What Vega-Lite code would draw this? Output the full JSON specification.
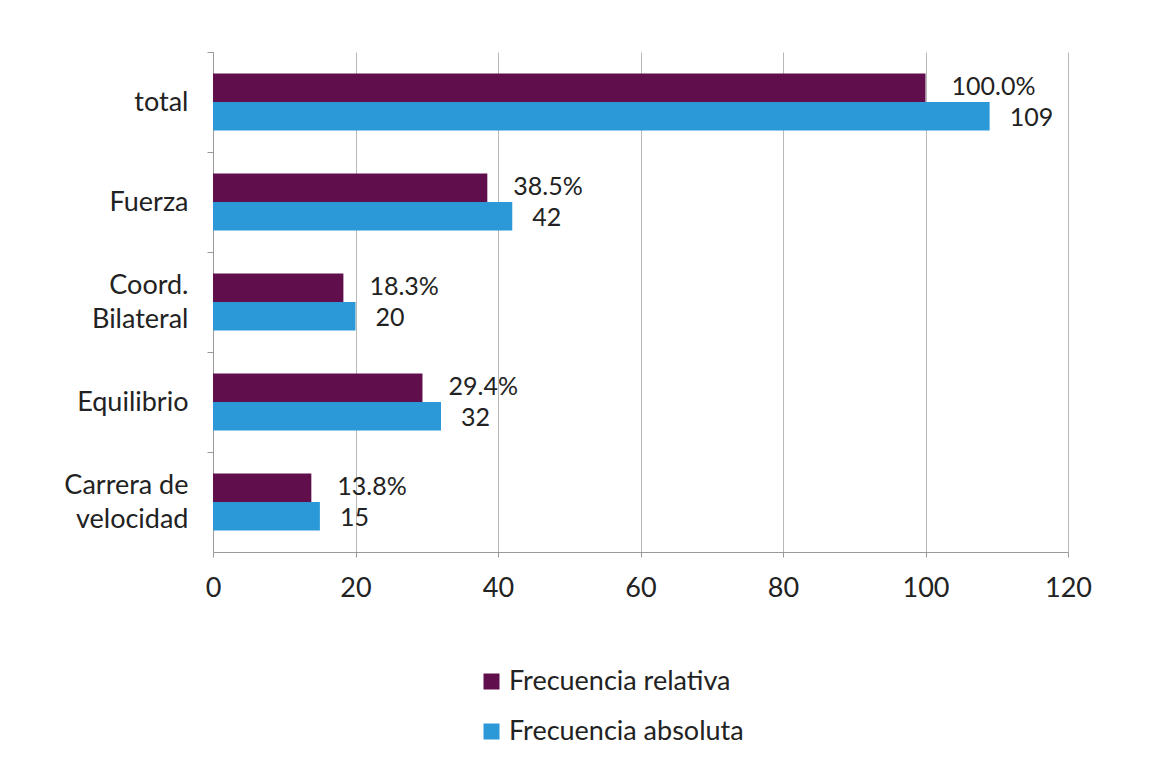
{
  "$schema": "https://vega.github.io/schema/vega-lite/v6.json",
  "width": 855,
  "height": 500,
  "autosize": "none",
  "padding": {"left": 213, "top": 52, "right": 86, "bottom": 230},
  "background": "white",
  "data": {"values": [
    {"cat": "total", "serie": "Frecuencia relativa", "value": 100.0},
    {"cat": "total", "serie": "Frecuencia absoluta", "value": 109},
    {"cat": "Fuerza", "serie": "Frecuencia relativa", "value": 38.5},
    {"cat": "Fuerza", "serie": "Frecuencia absoluta", "value": 42},
    {"cat": "Coord. Bilateral", "serie": "Frecuencia relativa", "value": 18.3},
    {"cat": "Coord. Bilateral", "serie": "Frecuencia absoluta", "value": 20},
    {"cat": "Equilibrio", "serie": "Frecuencia relativa", "value": 29.4},
    {"cat": "Equilibrio", "serie": "Frecuencia absoluta", "value": 32},
    {"cat": "Carrera de velocidad", "serie": "Frecuencia relativa", "value": 13.8},
    {"cat": "Carrera de velocidad", "serie": "Frecuencia absoluta", "value": 15}
  ]},
  "encoding": {
    "y": {
      "field": "cat", "type": "nominal",
      "sort": ["total", "Fuerza", "Coord. Bilateral", "Equilibrio", "Carrera de velocidad"],
      "scale": {"paddingInner": 0.43, "paddingOuter": 0.215},
      "axis": {
        "title": null,
        "tickOffset": -50,
        "domainColor": "#9a9a9a",
        "tickColor": "#9a9a9a",
        "tickSize": 6,
        "labelPadding": 19,
        "labelFontSize": 27,
        "labelFont": "Lato",
        "labelColor": "#222222",
        "labelLineHeight": 34,
        "labelOffset": {"condition": {"test": "datum.value == 'Coord. Bilateral' || datum.value == 'Carrera de velocidad'", "value": 33}, "value": 50},
        "labelExpr": "datum.value == 'Coord. Bilateral' ? ['Coord.', 'Bilateral'] : datum.value == 'Carrera de velocidad' ? ['Carrera de', 'velocidad'] : datum.value"
      }
    },
    "yOffset": {
      "field": "serie", "type": "nominal",
      "sort": ["Frecuencia relativa", "Frecuencia absoluta"],
      "scale": {"paddingInner": 0, "paddingOuter": 0}
    },
    "x": {
      "field": "value", "type": "quantitative",
      "scale": {"domain": [0, 120], "nice": false},
      "axis": {
        "title": null,
        "values": [0, 20, 40, 60, 80, 100, 120],
        "grid": true,
        "gridColor": "#b8b8b8",
        "domainColor": "#9a9a9a",
        "tickColor": "#9a9a9a",
        "tickSize": 5,
        "labelFlush": false,
        "labelPadding": 18,
        "labelFontSize": 27,
        "labelFont": "Lato",
        "labelColor": "#222222"
      }
    }
  },
  "layer": [
    {
      "mark": {"type": "bar", "opacity": 1},
      "encoding": {
        "color": {
          "field": "serie", "type": "nominal",
          "sort": ["Frecuencia relativa", "Frecuencia absoluta"],
          "scale": {"domain": ["Frecuencia relativa", "Frecuencia absoluta"], "range": ["#600E4C", "#2B98D8"]},
          "legend": {
            "title": null,
            "orient": "none",
            "legendX": 265,
            "legendY": 616,
            "direction": "vertical",
            "symbolType": "square",
            "symbolSize": 256,
            "symbolStrokeWidth": 0,
            "symbolOpacity": 1,
            "labelFontSize": 27,
            "labelFont": "Lato",
            "labelColor": "#222222",
            "labelLimit": 0,
            "labelOffset": 4,
            "rowPadding": 22
          }
        }
      }
    },
    {
      "transform": [
        {"filter": "datum.serie == 'Frecuencia relativa'"},
        {"calculate": "format(datum.value, '.1f') + '%'", "as": "label"}
      ],
      "mark": {"type": "text", "align": "left", "baseline": "middle", "dx": 26, "dy": -1, "fontSize": 25, "font": "Lato", "color": "#222222"},
      "encoding": {"text": {"field": "label"}}
    },
    {
      "transform": [
        {"filter": "datum.serie == 'Frecuencia absoluta'"}
      ],
      "mark": {"type": "text", "align": "left", "baseline": "middle", "dx": 20, "dy": 2, "fontSize": 25, "font": "Lato", "color": "#222222"},
      "encoding": {"text": {"field": "value", "type": "quantitative", "format": "d"}}
    }
  ],
  "config": {"view": {"stroke": null}}
}
